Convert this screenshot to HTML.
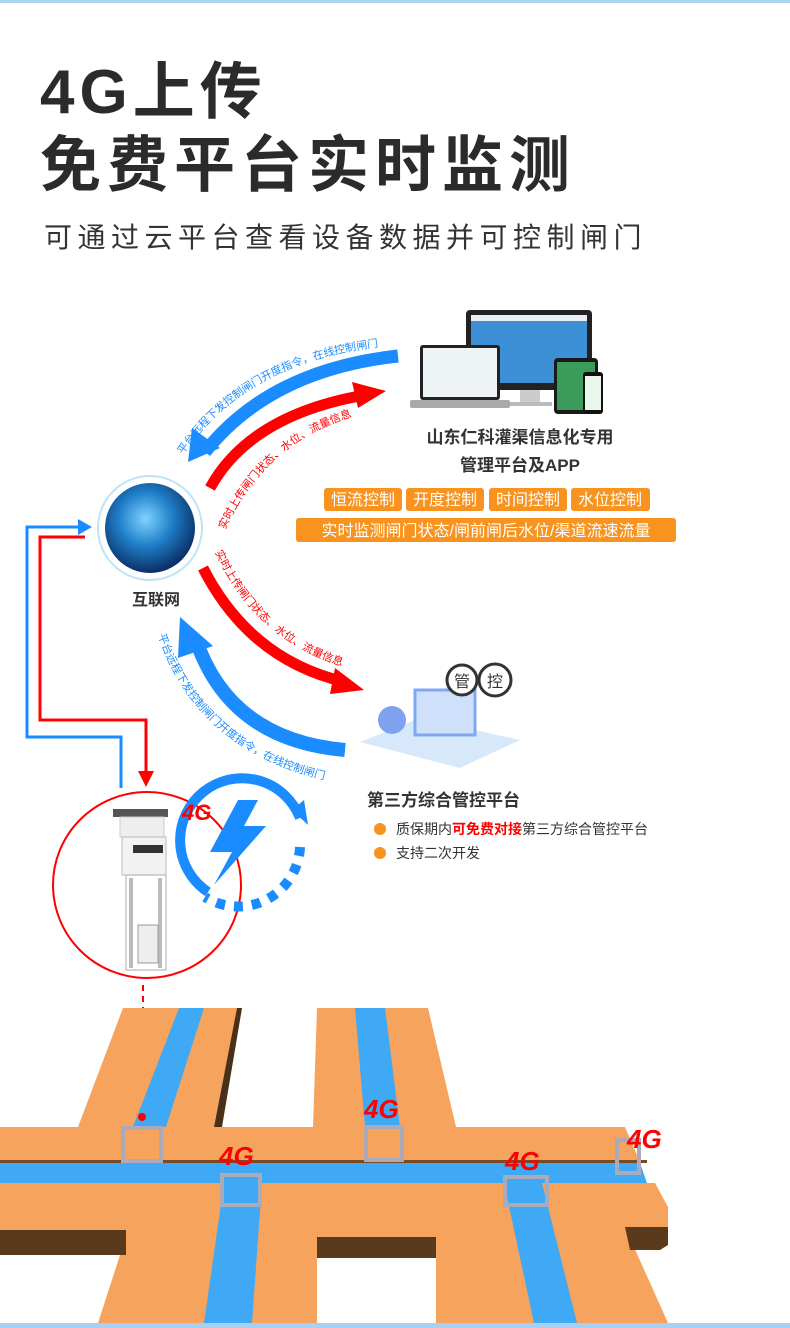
<!DOCTYPE html>
<html><head><meta charset="utf-8"><style>
html,body{margin:0;padding:0;background:#fff}
body{width:790px;height:1328px;overflow:hidden;position:relative;font-family:"Liberation Sans","Noto Sans CJK SC",sans-serif}
.t{position:absolute;white-space:nowrap}
</style></head><body>
<div style="position:absolute;left:0;top:0;width:790px;height:3px;background:#a8d8ee"></div>
<div class="t" style="left:40px;top:58px;font-size:62px;font-weight:bold;color:#2b2b2b;letter-spacing:5px;line-height:70px">4G上传</div>
<div class="t" style="left:40px;top:130px;font-size:61px;font-weight:bold;color:#2b2b2b;letter-spacing:6px;line-height:70px">免费平台实时监测</div>
<div class="t" style="left:44px;top:220px;font-size:28px;color:#333;letter-spacing:5.5px;line-height:36px">可通过云平台查看设备数据并可控制闸门</div>

<svg width="790" height="1328" style="position:absolute;left:0;top:0" xmlns="http://www.w3.org/2000/svg">
<defs>
<radialGradient id="g" cx="45%" cy="40%" r="60%"><stop offset="0" stop-color="#7fd3ff"/><stop offset="0.5" stop-color="#1f7fc8"/><stop offset="1" stop-color="#0a2f66"/></radialGradient>
<path id="p1" d="M183 455 Q 250 355 400 345"/>
<path id="p2" d="M225 530 Q 270 430 380 410"/>
<path id="p3" d="M215 552 Q 260 650 365 672"/>
<path id="p4" d="M158 635 Q 200 760 350 785"/>
</defs>
<!-- devices -->
<rect x="466" y="310" width="126" height="80" rx="4" fill="#222"/>
<rect x="471" y="315" width="116" height="68" fill="#3d8fd6"/>
<rect x="471" y="315" width="116" height="6" fill="#e8eef5"/>
<rect x="520" y="390" width="20" height="14" fill="#ccc"/>
<rect x="508" y="402" width="44" height="4" fill="#bbb"/>
<rect x="420" y="345" width="80" height="55" rx="3" fill="#222"/>
<rect x="423" y="348" width="74" height="49" fill="#eef3f6"/>
<rect x="410" y="400" width="100" height="8" rx="2" fill="#aaa"/>
<rect x="554" y="358" width="44" height="56" rx="4" fill="#1a1a1a"/>
<rect x="557" y="362" width="38" height="48" fill="#3a9b5a"/>
<rect x="583" y="372" width="20" height="42" rx="3" fill="#111"/>
<rect x="585" y="376" width="16" height="34" fill="#e9f6ec"/>
<text x="520" y="443" text-anchor="middle" font-size="17" font-weight="bold" fill="#333">山东仁科灌渠信息化专用</text>
<text x="520" y="471" text-anchor="middle" font-size="17" font-weight="bold" fill="#333">管理平台及APP</text>
<g font-size="16" fill="#fff" text-anchor="middle">
<rect x="324" y="488" width="78" height="23" rx="3" fill="#f7931e"/><text x="363" y="505">恒流控制</text>
<rect x="406" y="488" width="78" height="23" rx="3" fill="#f7931e"/><text x="445" y="505">开度控制</text>
<rect x="489" y="488" width="78" height="23" rx="3" fill="#f7931e"/><text x="528" y="505">时间控制</text>
<rect x="571" y="488" width="79" height="23" rx="3" fill="#f7931e"/><text x="610" y="505">水位控制</text>
<rect x="296" y="518" width="380" height="24" rx="3" fill="#f7931e"/><text x="486" y="536">实时监测闸门状态/闸前闸后水位/渠道流速流量</text>
</g>
<!-- globe -->
<circle cx="150" cy="528" r="52" fill="none" stroke="#bfe4f7" stroke-width="2"/>
<circle cx="150" cy="528" r="45" fill="url(#g)"/>
<text x="156" y="605" text-anchor="middle" font-size="16" font-weight="bold" fill="#333">互联网</text>
<!-- arrows -->
<path d="M398 356 Q 270 370 205 452" fill="none" stroke="#1a8cff" stroke-width="13"/>
<polygon points="188,462 192,428 220,448" fill="#1a8cff"/>
<path d="M210 488 Q 250 415 365 395" fill="none" stroke="#f00" stroke-width="11"/>
<polygon points="386,391 352,382 358,408" fill="#f00"/>
<path d="M203 568 Q 250 660 345 682" fill="none" stroke="#f00" stroke-width="11"/>
<polygon points="364,690 335,668 330,694" fill="#f00"/>
<path d="M345 750 Q 230 740 196 640" fill="none" stroke="#1a8cff" stroke-width="14"/>
<polygon points="180,617 178,658 213,646" fill="#1a8cff"/>
<g font-size="11">
<text fill="#1a8cff"><textPath href="#p1">平台远程下发控制闸门开度指令，在线控制闸门</textPath></text>
<text fill="#f00"><textPath href="#p2">实时上传闸门状态、水位、流量信息</textPath></text>
<text fill="#f00"><textPath href="#p3">实时上传闸门状态、水位、流量信息</textPath></text>
<text fill="#1a8cff"><textPath href="#p4">平台远程下发控制闸门开度指令，在线控制闸门</textPath></text>
</g>
<!-- connectors -->
<polyline points="121,788 121,737 27,737 27,527 82,527" fill="none" stroke="#1a8cff" stroke-width="3"/>
<polygon points="92,527 78,519 78,535" fill="#1a8cff"/>
<polyline points="85,537 40,537 40,720 146,720 146,775" fill="none" stroke="#f00" stroke-width="3"/>
<polygon points="146,787 138,771 154,771" fill="#f00"/>
<ellipse cx="147" cy="885" rx="94" ry="93" fill="#fff" stroke="#f00" stroke-width="2"/>
<rect x="113" y="809" width="55" height="8" fill="#555"/>
<rect x="120" y="817" width="44" height="20" fill="#eee" stroke="#ccc"/>
<rect x="122" y="837" width="44" height="38" fill="#f2f2f2" stroke="#bbb"/>
<rect x="133" y="845" width="30" height="8" fill="#333"/>
<rect x="126" y="875" width="40" height="95" fill="#fff" stroke="#aaa"/>
<rect x="129" y="878" width="4" height="90" fill="#bbb"/><rect x="158" y="878" width="4" height="90" fill="#bbb"/>
<rect x="138" y="925" width="20" height="38" fill="#eee" stroke="#999"/>
<!-- 4G lightning -->
<path d="M208 892 A 62 62 0 1 1 300 818" fill="none" stroke="#1a8cff" stroke-width="10"/>
<polygon points="308,825 292,810 304,800" fill="#1a8cff"/>
<path d="M300 847 A 62 62 0 0 1 205 897" fill="none" stroke="#1a8cff" stroke-width="10" stroke-dasharray="9 9"/>
<polygon points="238,800 210,852 232,852 214,885 266,826 244,826 258,800" fill="#1a8cff"/>
<text x="182" y="820" font-size="22" font-weight="bold" fill="#f00" font-style="italic">4G</text>
<line x1="143" y1="985" x2="143" y2="1115" stroke="#f00" stroke-width="2" stroke-dasharray="6 5"/>
<!-- third party -->
<polygon points="360,742 420,718 520,740 460,768" fill="#d7e8fb"/>
<rect x="415" y="690" width="60" height="45" fill="#cfe0fb" stroke="#7fa8f2" stroke-width="3"/>
<circle cx="392" cy="720" r="14" fill="#7fa2f0"/>
<circle cx="462" cy="680" r="15" fill="#fff" stroke="#333" stroke-width="3"/>
<circle cx="495" cy="680" r="16" fill="#fff" stroke="#333" stroke-width="3"/>
<text x="462" y="687" text-anchor="middle" font-size="16" fill="#333">管</text>
<text x="495" y="687" text-anchor="middle" font-size="16" fill="#333">控</text>
<text x="367" y="806" font-size="17" font-weight="bold" fill="#333">第三方综合管控平台</text>
<circle cx="380" cy="829" r="6" fill="#f7931e"/><circle cx="380" cy="853" r="6" fill="#f7931e"/>
<text x="396" y="834" font-size="14" fill="#333">质保期内<tspan fill="#f00" font-weight="bold">可免费对接</tspan>第三方综合管控平台</text>
<text x="396" y="858" font-size="14" fill="#333">支持二次开发</text>
<!-- canal -->
<g>
<polygon points="123,1008 237,1008 214,1127 78,1127" fill="#f6a35e"/>
<polygon points="237,1008 242,1008 222,1127 214,1127" fill="#4a3018"/>
<polygon points="179,1008 204,1008 166,1127 133,1127" fill="#3fa9f5"/>
<polygon points="317,1008 428,1008 456,1127 313,1127" fill="#f6a35e"/>
<polygon points="355,1008 385,1008 400,1127 365,1127" fill="#3fa9f5"/>
<polygon points="0,1127 625,1127 640,1162 0,1162" fill="#f6a35e"/>
<rect x="0" y="1160" width="647" height="3" fill="#7a4a20"/>
<polygon points="0,1163 640,1163 647,1183 0,1183" fill="#3fa9f5"/>
<polygon points="0,1183 655,1183 668,1207 668,1227 625,1227 668,1323 0,1323" fill="#f6a35e"/>
<polygon points="625,1227 668,1227 668,1245 660,1250 630,1250" fill="#5a3a1c"/>
<rect x="0" y="1230" width="126" height="25" fill="#5a3a1c"/>
<polygon points="0,1255 120,1255 98,1323 0,1323" fill="#fff"/>
<rect x="317" y="1237" width="119" height="86" fill="#fff"/>
<rect x="317" y="1237" width="119" height="21" fill="#5a3a1c"/>
<polygon points="224,1183 262,1183 252,1323 204,1323" fill="#3fa9f5"/>
<polygon points="504,1183 542,1183 577,1323 534,1323" fill="#3fa9f5"/>
<g fill="none" stroke="#aab" stroke-width="4">
<rect x="123" y="1128" width="38" height="33"/><rect x="366" y="1127" width="36" height="33"/>
<rect x="222" y="1175" width="38" height="30"/><rect x="505" y="1177" width="42" height="28"/>
<rect x="617" y="1140" width="22" height="33"/>
</g>
<circle cx="142" cy="1117" r="4" fill="#f00"/>
<g font-size="26" font-weight="bold" fill="#f00" font-style="italic">
<text x="219" y="1165">4G</text><text x="364" y="1118">4G</text><text x="505" y="1170">4G</text><text x="627" y="1148">4G</text>
</g>
</g>
<rect x="0" y="1323" width="790" height="5" fill="#a8d0f2"/>
</svg>
</body></html>
